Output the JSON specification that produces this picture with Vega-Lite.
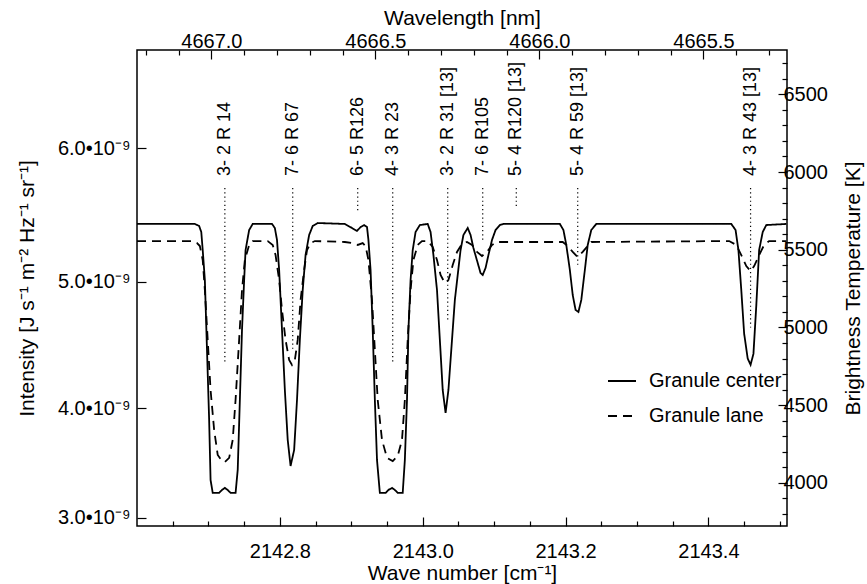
{
  "$schema": "https://vega.github.io/schema/vega-lite/v6.json",
  "width": 650,
  "height": 476,
  "autosize": "none",
  "padding": {"left": 137, "top": 50, "right": 80, "bottom": 58},
  "background": "white",
  "config": {
    "font": "Liberation Sans",
    "view": {"stroke": "black", "strokeWidth": 1.5},
    "axis": {
      "grid": false,
      "domain": false,
      "labelColor": "black",
      "titleColor": "black",
      "tickColor": "black",
      "tickWidth": 1.2,
      "labelFontSize": 20,
      "titleFontSize": 21,
      "titleFontWeight": "normal",
      "labelFlush": false,
      "labelOverlap": false,
      "labelBound": false
    }
  },
  "layer": [
    {
      "data": {"values": [
        {"profile": "Granule center", "wn": 2142.600, "T": 5666},
        {"profile": "Granule center", "wn": 2142.681, "T": 5666},
        {"profile": "Granule center", "wn": 2142.687, "T": 5653},
        {"profile": "Granule center", "wn": 2142.690, "T": 5614},
        {"profile": "Granule center", "wn": 2142.692, "T": 5498},
        {"profile": "Granule center", "wn": 2142.695, "T": 5305},
        {"profile": "Granule center", "wn": 2142.698, "T": 4855},
        {"profile": "Granule center", "wn": 2142.701, "T": 4405},
        {"profile": "Granule center", "wn": 2142.703, "T": 4019},
        {"profile": "Granule center", "wn": 2142.706, "T": 3936},
        {"profile": "Granule center", "wn": 2142.715, "T": 3936},
        {"profile": "Granule center", "wn": 2142.719, "T": 3955},
        {"profile": "Granule center", "wn": 2142.723, "T": 3968},
        {"profile": "Granule center", "wn": 2142.727, "T": 3955},
        {"profile": "Granule center", "wn": 2142.731, "T": 3936},
        {"profile": "Granule center", "wn": 2142.738, "T": 3936},
        {"profile": "Granule center", "wn": 2142.741, "T": 4084},
        {"profile": "Granule center", "wn": 2142.744, "T": 4534},
        {"profile": "Granule center", "wn": 2142.747, "T": 4984},
        {"profile": "Granule center", "wn": 2142.750, "T": 5305},
        {"profile": "Granule center", "wn": 2142.752, "T": 5498},
        {"profile": "Granule center", "wn": 2142.757, "T": 5627},
        {"profile": "Granule center", "wn": 2142.762, "T": 5666},
        {"profile": "Granule center", "wn": 2142.789, "T": 5666},
        {"profile": "Granule center", "wn": 2142.793, "T": 5640},
        {"profile": "Granule center", "wn": 2142.796, "T": 5563},
        {"profile": "Granule center", "wn": 2142.799, "T": 5370},
        {"profile": "Granule center", "wn": 2142.803, "T": 4984},
        {"profile": "Granule center", "wn": 2142.807, "T": 4598},
        {"profile": "Granule center", "wn": 2142.811, "T": 4277},
        {"profile": "Granule center", "wn": 2142.815, "T": 4109},
        {"profile": "Granule center", "wn": 2142.820, "T": 4212},
        {"profile": "Granule center", "wn": 2142.824, "T": 4534},
        {"profile": "Granule center", "wn": 2142.828, "T": 4920},
        {"profile": "Granule center", "wn": 2142.832, "T": 5241},
        {"profile": "Granule center", "wn": 2142.836, "T": 5466},
        {"profile": "Granule center", "wn": 2142.841, "T": 5595},
        {"profile": "Granule center", "wn": 2142.846, "T": 5653},
        {"profile": "Granule center", "wn": 2142.853, "T": 5672},
        {"profile": "Granule center", "wn": 2142.891, "T": 5666},
        {"profile": "Granule center", "wn": 2142.901, "T": 5640},
        {"profile": "Granule center", "wn": 2142.908, "T": 5621},
        {"profile": "Granule center", "wn": 2142.913, "T": 5646},
        {"profile": "Granule center", "wn": 2142.918, "T": 5659},
        {"profile": "Granule center", "wn": 2142.922, "T": 5646},
        {"profile": "Granule center", "wn": 2142.924, "T": 5563},
        {"profile": "Granule center", "wn": 2142.927, "T": 5370},
        {"profile": "Granule center", "wn": 2142.930, "T": 4984},
        {"profile": "Granule center", "wn": 2142.933, "T": 4534},
        {"profile": "Granule center", "wn": 2142.936, "T": 4148},
        {"profile": "Granule center", "wn": 2142.940, "T": 3936},
        {"profile": "Granule center", "wn": 2142.948, "T": 3936},
        {"profile": "Granule center", "wn": 2142.952, "T": 3955},
        {"profile": "Granule center", "wn": 2142.957, "T": 3968},
        {"profile": "Granule center", "wn": 2142.961, "T": 3955},
        {"profile": "Granule center", "wn": 2142.965, "T": 3936},
        {"profile": "Granule center", "wn": 2142.972, "T": 3936},
        {"profile": "Granule center", "wn": 2142.975, "T": 4148},
        {"profile": "Granule center", "wn": 2142.978, "T": 4534},
        {"profile": "Granule center", "wn": 2142.980, "T": 4984},
        {"profile": "Granule center", "wn": 2142.983, "T": 5305},
        {"profile": "Granule center", "wn": 2142.986, "T": 5498},
        {"profile": "Granule center", "wn": 2142.990, "T": 5614},
        {"profile": "Granule center", "wn": 2142.996, "T": 5659},
        {"profile": "Granule center", "wn": 2143.007, "T": 5666},
        {"profile": "Granule center", "wn": 2143.011, "T": 5614},
        {"profile": "Granule center", "wn": 2143.015, "T": 5466},
        {"profile": "Granule center", "wn": 2143.020, "T": 5241},
        {"profile": "Granule center", "wn": 2143.024, "T": 4920},
        {"profile": "Granule center", "wn": 2143.028, "T": 4598},
        {"profile": "Granule center", "wn": 2143.032, "T": 4450},
        {"profile": "Granule center", "wn": 2143.036, "T": 4598},
        {"profile": "Granule center", "wn": 2143.041, "T": 4920},
        {"profile": "Granule center", "wn": 2143.045, "T": 5177},
        {"profile": "Granule center", "wn": 2143.049, "T": 5338},
        {"profile": "Granule center", "wn": 2143.053, "T": 5498},
        {"profile": "Granule center", "wn": 2143.057, "T": 5595},
        {"profile": "Granule center", "wn": 2143.063, "T": 5640},
        {"profile": "Granule center", "wn": 2143.067, "T": 5595},
        {"profile": "Granule center", "wn": 2143.071, "T": 5511},
        {"profile": "Granule center", "wn": 2143.077, "T": 5415},
        {"profile": "Granule center", "wn": 2143.081, "T": 5350},
        {"profile": "Granule center", "wn": 2143.084, "T": 5338},
        {"profile": "Granule center", "wn": 2143.088, "T": 5383},
        {"profile": "Granule center", "wn": 2143.092, "T": 5466},
        {"profile": "Granule center", "wn": 2143.097, "T": 5563},
        {"profile": "Granule center", "wn": 2143.102, "T": 5627},
        {"profile": "Granule center", "wn": 2143.108, "T": 5659},
        {"profile": "Granule center", "wn": 2143.113, "T": 5666},
        {"profile": "Granule center", "wn": 2143.192, "T": 5666},
        {"profile": "Granule center", "wn": 2143.197, "T": 5627},
        {"profile": "Granule center", "wn": 2143.201, "T": 5531},
        {"profile": "Granule center", "wn": 2143.206, "T": 5370},
        {"profile": "Granule center", "wn": 2143.210, "T": 5209},
        {"profile": "Granule center", "wn": 2143.214, "T": 5113},
        {"profile": "Granule center", "wn": 2143.218, "T": 5100},
        {"profile": "Granule center", "wn": 2143.222, "T": 5177},
        {"profile": "Granule center", "wn": 2143.227, "T": 5370},
        {"profile": "Granule center", "wn": 2143.231, "T": 5531},
        {"profile": "Granule center", "wn": 2143.236, "T": 5627},
        {"profile": "Granule center", "wn": 2143.243, "T": 5666},
        {"profile": "Granule center", "wn": 2143.432, "T": 5666},
        {"profile": "Granule center", "wn": 2143.438, "T": 5627},
        {"profile": "Granule center", "wn": 2143.442, "T": 5498},
        {"profile": "Granule center", "wn": 2143.446, "T": 5241},
        {"profile": "Granule center", "wn": 2143.450, "T": 4960},
        {"profile": "Granule center", "wn": 2143.455, "T": 4800},
        {"profile": "Granule center", "wn": 2143.459, "T": 4760},
        {"profile": "Granule center", "wn": 2143.463, "T": 4830},
        {"profile": "Granule center", "wn": 2143.467, "T": 5140},
        {"profile": "Granule center", "wn": 2143.471, "T": 5498},
        {"profile": "Granule center", "wn": 2143.476, "T": 5614},
        {"profile": "Granule center", "wn": 2143.481, "T": 5659},
        {"profile": "Granule center", "wn": 2143.509, "T": 5666},
        {"profile": "Granule lane", "wn": 2142.600, "T": 5556},
        {"profile": "Granule lane", "wn": 2142.677, "T": 5556},
        {"profile": "Granule lane", "wn": 2142.684, "T": 5543},
        {"profile": "Granule lane", "wn": 2142.688, "T": 5524},
        {"profile": "Granule lane", "wn": 2142.692, "T": 5434},
        {"profile": "Granule lane", "wn": 2142.695, "T": 5241},
        {"profile": "Granule lane", "wn": 2142.699, "T": 4920},
        {"profile": "Granule lane", "wn": 2142.703, "T": 4598},
        {"profile": "Granule lane", "wn": 2142.708, "T": 4341},
        {"profile": "Granule lane", "wn": 2142.713, "T": 4180},
        {"profile": "Granule lane", "wn": 2142.719, "T": 4141},
        {"profile": "Granule lane", "wn": 2142.723, "T": 4135},
        {"profile": "Granule lane", "wn": 2142.729, "T": 4161},
        {"profile": "Granule lane", "wn": 2142.734, "T": 4277},
        {"profile": "Granule lane", "wn": 2142.738, "T": 4534},
        {"profile": "Granule lane", "wn": 2142.743, "T": 4920},
        {"profile": "Granule lane", "wn": 2142.747, "T": 5241},
        {"profile": "Granule lane", "wn": 2142.751, "T": 5434},
        {"profile": "Granule lane", "wn": 2142.757, "T": 5531},
        {"profile": "Granule lane", "wn": 2142.762, "T": 5556},
        {"profile": "Granule lane", "wn": 2142.783, "T": 5556},
        {"profile": "Granule lane", "wn": 2142.790, "T": 5531},
        {"profile": "Granule lane", "wn": 2142.794, "T": 5466},
        {"profile": "Granule lane", "wn": 2142.799, "T": 5305},
        {"profile": "Granule lane", "wn": 2142.803, "T": 5113},
        {"profile": "Granule lane", "wn": 2142.808, "T": 4920},
        {"profile": "Granule lane", "wn": 2142.813, "T": 4791},
        {"profile": "Granule lane", "wn": 2142.817, "T": 4759},
        {"profile": "Granule lane", "wn": 2142.821, "T": 4791},
        {"profile": "Granule lane", "wn": 2142.825, "T": 4920},
        {"profile": "Granule lane", "wn": 2142.829, "T": 5177},
        {"profile": "Granule lane", "wn": 2142.834, "T": 5370},
        {"profile": "Granule lane", "wn": 2142.838, "T": 5498},
        {"profile": "Granule lane", "wn": 2142.843, "T": 5543},
        {"profile": "Granule lane", "wn": 2142.849, "T": 5556},
        {"profile": "Granule lane", "wn": 2142.891, "T": 5550},
        {"profile": "Granule lane", "wn": 2142.901, "T": 5543},
        {"profile": "Granule lane", "wn": 2142.909, "T": 5531},
        {"profile": "Granule lane", "wn": 2142.916, "T": 5543},
        {"profile": "Granule lane", "wn": 2142.920, "T": 5524},
        {"profile": "Granule lane", "wn": 2142.924, "T": 5434},
        {"profile": "Granule lane", "wn": 2142.929, "T": 5177},
        {"profile": "Granule lane", "wn": 2142.933, "T": 4855},
        {"profile": "Granule lane", "wn": 2142.937, "T": 4534},
        {"profile": "Granule lane", "wn": 2142.943, "T": 4277},
        {"profile": "Granule lane", "wn": 2142.950, "T": 4161},
        {"profile": "Granule lane", "wn": 2142.958, "T": 4141},
        {"profile": "Granule lane", "wn": 2142.965, "T": 4174},
        {"profile": "Granule lane", "wn": 2142.971, "T": 4277},
        {"profile": "Granule lane", "wn": 2142.975, "T": 4534},
        {"profile": "Granule lane", "wn": 2142.979, "T": 4920},
        {"profile": "Granule lane", "wn": 2142.983, "T": 5241},
        {"profile": "Granule lane", "wn": 2142.987, "T": 5434},
        {"profile": "Granule lane", "wn": 2142.993, "T": 5531},
        {"profile": "Granule lane", "wn": 2142.999, "T": 5556},
        {"profile": "Granule lane", "wn": 2143.007, "T": 5556},
        {"profile": "Granule lane", "wn": 2143.014, "T": 5518},
        {"profile": "Granule lane", "wn": 2143.020, "T": 5434},
        {"profile": "Granule lane", "wn": 2143.025, "T": 5338},
        {"profile": "Granule lane", "wn": 2143.031, "T": 5286},
        {"profile": "Granule lane", "wn": 2143.036, "T": 5305},
        {"profile": "Granule lane", "wn": 2143.042, "T": 5402},
        {"profile": "Granule lane", "wn": 2143.048, "T": 5486},
        {"profile": "Granule lane", "wn": 2143.055, "T": 5537},
        {"profile": "Granule lane", "wn": 2143.062, "T": 5550},
        {"profile": "Granule lane", "wn": 2143.069, "T": 5531},
        {"profile": "Granule lane", "wn": 2143.076, "T": 5486},
        {"profile": "Granule lane", "wn": 2143.083, "T": 5460},
        {"profile": "Granule lane", "wn": 2143.090, "T": 5486},
        {"profile": "Granule lane", "wn": 2143.097, "T": 5531},
        {"profile": "Granule lane", "wn": 2143.104, "T": 5550},
        {"profile": "Granule lane", "wn": 2143.196, "T": 5550},
        {"profile": "Granule lane", "wn": 2143.203, "T": 5524},
        {"profile": "Granule lane", "wn": 2143.210, "T": 5486},
        {"profile": "Granule lane", "wn": 2143.217, "T": 5453},
        {"profile": "Granule lane", "wn": 2143.224, "T": 5486},
        {"profile": "Granule lane", "wn": 2143.231, "T": 5524},
        {"profile": "Granule lane", "wn": 2143.236, "T": 5550},
        {"profile": "Granule lane", "wn": 2143.429, "T": 5556},
        {"profile": "Granule lane", "wn": 2143.439, "T": 5531},
        {"profile": "Granule lane", "wn": 2143.446, "T": 5466},
        {"profile": "Granule lane", "wn": 2143.453, "T": 5395},
        {"profile": "Granule lane", "wn": 2143.459, "T": 5363},
        {"profile": "Granule lane", "wn": 2143.464, "T": 5395},
        {"profile": "Granule lane", "wn": 2143.471, "T": 5466},
        {"profile": "Granule lane", "wn": 2143.478, "T": 5531},
        {"profile": "Granule lane", "wn": 2143.485, "T": 5556},
        {"profile": "Granule lane", "wn": 2143.509, "T": 5556}
      ]},
      "mark": {"type": "line", "color": "black", "strokeWidth": 1.8, "clip": true},
      "encoding": {
        "x": {
          "field": "wn", "type": "quantitative",
          "scale": {"domain": [2142.6, 2143.51], "nice": false, "zero": false},
          "axis": {
            "orient": "bottom",
            "title": "Wave number [cm⁻¹]",
            "values": [2142.65, 2142.7, 2142.75, 2142.8, 2142.85, 2142.9, 2142.95, 2143.0, 2143.05, 2143.1, 2143.15, 2143.2, 2143.25, 2143.3, 2143.35, 2143.4, 2143.45, 2143.5],
            "labelExpr": "abs(datum.value*5-round(datum.value*5))<0.001 ? format(datum.value,'.1f') : ''",
            "tickSize": {"condition": {"test": "abs(datum.value*5-round(datum.value*5))<0.001", "value": -9}, "value": -5},
            "labelPadding": 24,
            "titleX": 325, "titleY": 47, "titleBaseline": "middle", "titleAlign": "center"
          }
        },
        "y": {
          "field": "T", "type": "quantitative",
          "scale": {"domain": [3723, 6785], "nice": false, "zero": false},
          "axis": {
            "orient": "left",
            "title": "Intensity [J s⁻¹ m⁻² Hz⁻¹ sr⁻¹]",
            "values": [3775, 4482, 5293, 6154],
            "labelExpr": "datum.value < 4000 ? '3.0•10⁻⁹' : datum.value < 5000 ? '4.0•10⁻⁹' : datum.value < 6000 ? '5.0•10⁻⁹' : '6.0•10⁻⁹'",
            "tickSize": -9,
            "labelPadding": 16,
            "titleX": -110, "titleY": 238, "titleAngle": 270, "titleBaseline": "middle", "titleAlign": "center"
          }
        },
        "strokeDash": {
          "field": "profile", "type": "nominal",
          "scale": {"domain": ["Granule center", "Granule lane"], "range": [[1, 0], [9, 6]]},
          "legend": {
            "orient": "none", "legendX": 470, "legendY": 316,
            "title": null, "padding": 0,
            "symbolType": "stroke", "symbolSize": 784, "symbolStrokeWidth": 1.8,
            "symbolStrokeColor": "black",
            "labelFontSize": 20, "labelColor": "black", "labelOffset": 12,
            "rowPadding": 10
          }
        }
      }
    },
    {
      "data": {"values": [
        {"label": "3- 2 R 14", "wn": 2142.723, "Ttop": 5897, "Tbot": 4772},
        {"label": "7- 6 R 67", "wn": 2142.818, "Ttop": 5897, "Tbot": 4855},
        {"label": "6- 5 R126", "wn": 2142.909, "Ttop": 5897, "Tbot": 5743},
        {"label": "4- 3 R 23", "wn": 2142.958, "Ttop": 5897, "Tbot": 4772},
        {"label": "3- 2 R 31 [13]", "wn": 2143.035, "Ttop": 5897, "Tbot": 5048},
        {"label": "7- 6 R105", "wn": 2143.084, "Ttop": 5897, "Tbot": 5550},
        {"label": "5- 4 R120 [13]", "wn": 2143.131, "Ttop": 5897, "Tbot": 5775},
        {"label": "5- 4 R 59 [13]", "wn": 2143.217, "Ttop": 5897, "Tbot": 5402},
        {"label": "4- 3 R 43 [13]", "wn": 2143.459, "Ttop": 5897, "Tbot": 5000}
      ]},
      "mark": {"type": "rule", "color": "black", "strokeWidth": 1.2, "strokeDash": [1.2, 3]},
      "encoding": {
        "x": {
          "field": "wn", "type": "quantitative",
          "axis": {
            "orient": "top",
            "title": "Wavelength [nm]",
            "values": [2142.61227, 2142.65818, 2142.70409, 2142.75000, 2142.79592, 2142.84183, 2142.88775, 2142.93368, 2142.97960, 2143.02552, 2143.07145, 2143.11738, 2143.16331, 2143.20924, 2143.25517, 2143.30111, 2143.34705, 2143.39299, 2143.43893, 2143.48487],
            "labelExpr": "abs(2e7/datum.value-round(2e7/datum.value))<0.01 ? format(1e7/datum.value,'.1f') : ''",
            "tickSize": {"condition": {"test": "abs(2e7/datum.value-round(2e7/datum.value))<0.01", "value": -9}, "value": -5},
            "labelPadding": 8,
            "titleX": 325, "titleY": -32, "titleBaseline": "middle", "titleAlign": "center"
          }
        },
        "y": {
          "field": "Ttop", "type": "quantitative",
          "axis": {
            "orient": "right",
            "title": "Brightness Temperature [K]",
            "values": [3800, 3900, 4000, 4100, 4200, 4300, 4400, 4500, 4600, 4700, 4800, 4900, 5000, 5100, 5200, 5300, 5400, 5500, 5600, 5700, 5800, 5900, 6000, 6100, 6200, 6300, 6400, 6500, 6600, 6700],
            "labelExpr": "datum.value % 500 == 0 ? format(datum.value,'d') : ''",
            "tickSize": {"condition": {"test": "datum.value % 500 == 0", "value": -9}, "value": -5},
            "labelPadding": 5,
            "titleX": 66, "titleY": 238, "titleAngle": 270, "titleBaseline": "middle", "titleAlign": "center"
          }
        },
        "y2": {"field": "Tbot"}
      }
    },
    {
      "data": {"values": [
        {"label": "3- 2 R 14", "wn": 2142.723, "Ttext": 5974},
        {"label": "7- 6 R 67", "wn": 2142.818, "Ttext": 5974},
        {"label": "6- 5 R126", "wn": 2142.909, "Ttext": 5974},
        {"label": "4- 3 R 23", "wn": 2142.958, "Ttext": 5974},
        {"label": "3- 2 R 31 [13]", "wn": 2143.035, "Ttext": 5974},
        {"label": "7- 6 R105", "wn": 2143.084, "Ttext": 5974},
        {"label": "5- 4 R120 [13]", "wn": 2143.131, "Ttext": 5974},
        {"label": "5- 4 R 59 [13]", "wn": 2143.217, "Ttext": 5974},
        {"label": "4- 3 R 43 [13]", "wn": 2143.459, "Ttext": 5974}
      ]},
      "mark": {"type": "text", "angle": 270, "align": "left", "baseline": "middle", "fontSize": 18, "color": "black"},
      "encoding": {
        "x": {"field": "wn", "type": "quantitative", "axis": null},
        "y": {"field": "Ttext", "type": "quantitative", "axis": null},
        "text": {"field": "label"}
      }
    }
  ],
  "resolve": {"axis": {"x": "independent", "y": "independent"}}
}
